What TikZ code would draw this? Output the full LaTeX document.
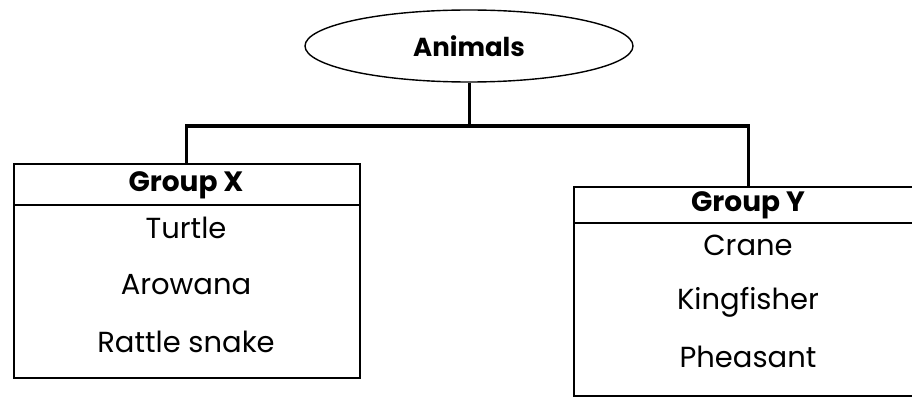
\documentclass[tikz,border=0pt]{standalone}
\usepackage{fontspec}
\setmainfont{Poppins}
\usetikzlibrary{shapes.geometric}

\begin{document}
\begin{tikzpicture}[x=1pt,y=-1pt,
    groupbox/.style={draw, line width=1.6pt, anchor=north west, inner sep=0pt},
    conn/.style={line width=3pt},
    item/.style={font=\fontsize{29}{34}\selectfont},
    head/.style={font=\bfseries\fontsize{28}{32}\selectfont}]
        \useasboundingbox (0,0) rectangle (912,401);
        % Top oval
        \node[ellipse, draw, line width=1.4pt, minimum width=328pt, minimum height=72pt,
              font=\bfseries\fontsize{26}{30}\selectfont] (animals) at (469,46) {Animals};
        % The two group boxes
        \node[groupbox, minimum width=346pt, minimum height=214pt] (groupx) at (13,163) {};
        \node[groupbox, minimum width=350pt, minimum height=209pt] (groupy) at (573,186) {};
        \draw[line width=1.6pt] (13,205) -- (359,205);
        \draw[line width=1.6pt] (573,223) -- (923,223);
        % Connectors
        \coordinate (bar) at (469,126);
        \draw[conn] (animals.south) -- (bar);
        \draw[conn] (groupx.north) |- (bar) -| (groupy.north);
        % Group X
        \node[head] (gx) at (186,185) {Group X};
        \node[item] (turtle) at (186,228) {Turtle};
        \node[item] (arowana) at (186,285) {Arowana};
        \node[item] (rattle) at (186,342) {Rattle snake};
        % Group Y
        \node[head] (gy) at (748,205) {Group Y};
        \node[item] (crane) at (748,245) {Crane};
        \node[item] (kingfisher) at (748,302) {Kingfisher};
        \node[item] (pheasant) at (748,357) {Pheasant};
\end{tikzpicture}
\end{document}
